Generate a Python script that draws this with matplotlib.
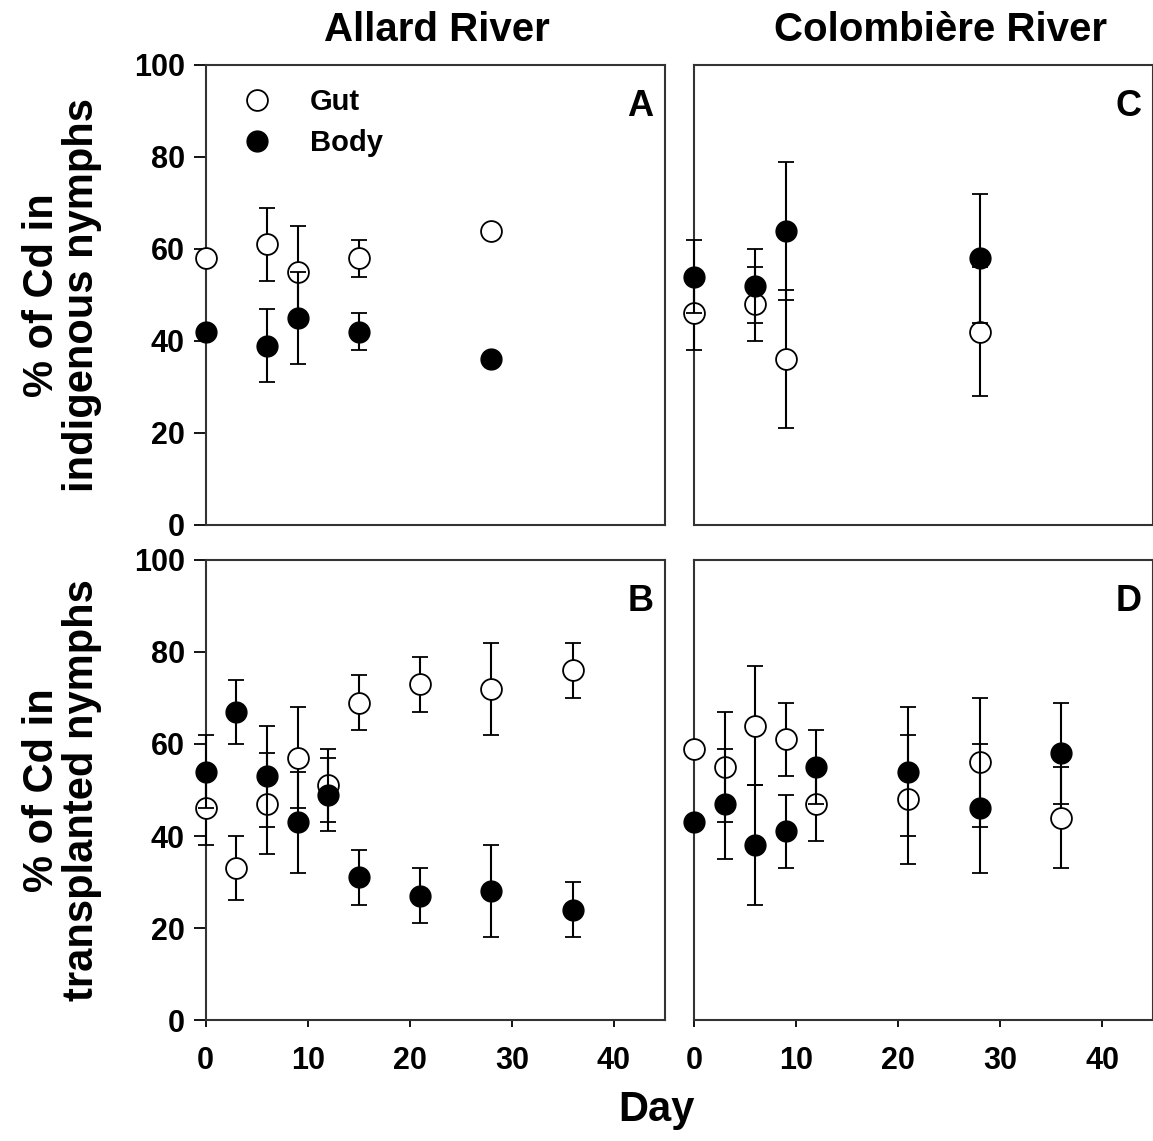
import numpy as np
import matplotlib.pyplot as plt
from matplotlib.lines import Line2D

plt.rcParams['font.family'] = ['Liberation Sans', 'DejaVu Sans']
plt.rcParams['font.weight'] = 'bold'

# Panel A - Allard River, indigenous nymphs
a_day = [0, 6, 9, 15, 28]
a_gut = [58, 61, 55, 58, 64]
a_gut_err = [0, 8, 10, 4, 0]
a_body = [42, 39, 45, 42, 36]
a_body_err = [0, 8, 10, 4, 0]

# Panel C - Colombière River, indigenous nymphs
c_day = [0, 6, 9, 28]
c_gut = [46, 48, 36, 42]
c_gut_err = [8, 8, 15, 14]
c_body = [54, 52, 64, 58]
c_body_err = [8, 8, 15, 14]

# Panel B - Allard River, transplanted nymphs
b_day = [0, 3, 6, 9, 12, 15, 21, 28, 36]
b_gut = [46, 33, 47, 57, 51, 69, 73, 72, 76]
b_gut_err = [8, 7, 11, 11, 8, 6, 6, 10, 6]
b_body = [54, 67, 53, 43, 49, 31, 27, 28, 24]
b_body_err = [8, 7, 11, 11, 8, 6, 6, 10, 6]

# Panel D - Colombière River, transplanted nymphs
d_day = [0, 3, 6, 9, 12, 21, 28, 36]
d_gut = [59, 55, 64, 61, 47, 48, 56, 44]
d_gut_err = [0, 12, 13, 8, 8, 14, 14, 11]
d_body = [43, 47, 38, 41, 55, 54, 46, 58]
d_body_err = [0, 12, 13, 8, 8, 14, 14, 11]

xticks = [0, 10, 20, 30, 40]
yticks = [0, 20, 40, 60, 80, 100]

fig = plt.figure(figsize=(11.53, 11.41), dpi=100)
W, H = 1153, 1141


def make_ax(left, top, right, bottom):
    return fig.add_axes([left / W, 1 - bottom / H, (right - left) / W, (bottom - top) / H])


axA = make_ax(205.7, 65, 665, 525)
axB = make_ax(205.7, 560, 665, 1020)
axC = make_ax(694, 65, 694 + 459.3, 525)
axD = make_ax(694, 560, 694 + 459.3, 1020)

panels = [
    (axA, a_day, a_gut, a_gut_err, a_body, a_body_err, 'A'),
    (axB, b_day, b_gut, b_gut_err, b_body, b_body_err, 'B'),
    (axC, c_day, c_gut, c_gut_err, c_body, c_body_err, 'C'),
    (axD, d_day, d_gut, d_gut_err, d_body, d_body_err, 'D'),
]

for ax, day, gut, gerr, body, berr, letter in panels:
    ax.errorbar(day, gut, yerr=gerr, fmt='o', ms=15, mfc='white', mec='black',
                mew=1.3, ecolor='black', elinewidth=1.5, capsize=6, capthick=1.3,
                zorder=3, clip_on=False)
    ax.errorbar(day, body, yerr=berr, fmt='o', ms=15, mfc='black', mec='black',
                ecolor='black', elinewidth=1.5, capsize=6, capthick=1.3,
                zorder=4, clip_on=False)
    ax.set_xlim(0, 45)
    ax.set_ylim(0, 100)
    ax.set_xticks(xticks)
    ax.set_yticks(yticks)
    for sp in ax.spines.values():
        sp.set_linewidth(1.5)
        sp.set_color('#333333')
    ax.tick_params(axis='y', direction='out', length=9, width=1.3, labelsize=22, pad=6)
    ax.tick_params(axis='x', direction='out', length=5, width=1.3, labelsize=22, pad=14)
    ax.text(0.975, 0.91, letter, transform=ax.transAxes, ha='right', va='center',
            fontsize=26, fontweight='bold')

for ax in (axA, axC):
    ax.tick_params(axis='x', length=0, labelbottom=False)
for ax in (axC, axD):
    ax.tick_params(axis='y', length=0, labelleft=False)

handles = [
    Line2D([], [], ls='none', marker='o', ms=15, mfc='white', mec='black', mew=1.3),
    Line2D([], [], ls='none', marker='o', ms=15, mfc='black', mec='black'),
]
axA.legend(handles, ['Gut', 'Body'], loc='upper left', bbox_to_anchor=(0.055, 0.975),
           frameon=False, prop={'size': 21, 'weight': 'bold'}, handlelength=1.0,
           handletextpad=1.3, labelspacing=0.45, borderaxespad=0)

for ax, label in ((axA, '% of Cd in\nindigenous nymphs'),
                  (axB, '% of Cd in\ntransplanted nymphs')):
    ax.set_ylabel(label, fontsize=30, fontweight='bold', linespacing=1.0)
    ax.yaxis.set_label_coords(-0.225, 0.5)

fig.text(437 / W, 1 - 30 / H, 'Allard River', ha='center', va='center',
         fontsize=29, fontweight='bold')
fig.text(940 / W, 1 - 30 / H, 'Colombière River', ha='center', va='center',
         fontsize=29, fontweight='bold')
fig.text(656 / W, 1 - 1110 / H, 'Day', ha='center', va='center',
         fontsize=30, fontweight='bold')

fig.savefig('out.png', dpi=100)
